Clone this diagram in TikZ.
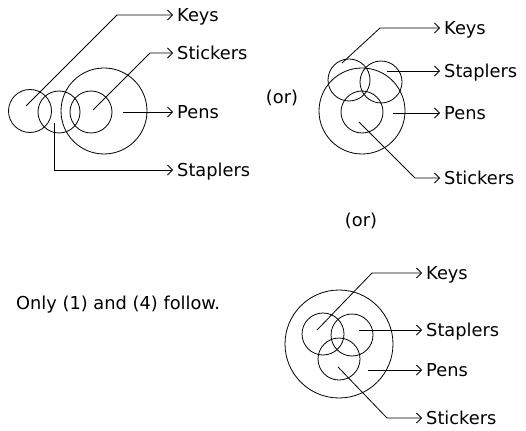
\documentclass[tikz,border=0pt]{standalone}
\usepackage{fontspec}
\setmainfont{DejaVu Sans}
\usetikzlibrary{arrows.meta}
\begin{document}
\begin{tikzpicture}[x=1pt,y=-1pt,
  every node/.style={font=\fontsize{17.8}{21}\selectfont},
  circ/.style={draw, circle, inner sep=0pt, line width=0.8pt},
  conn/.style={line width=0.8pt, -{Straight Barb[length=5pt,width=10pt,line width=0.8pt]}},
  lab/.style={anchor=west, inner xsep=4pt, inner ysep=0pt, text height=12.8pt, text depth=0pt},
  plain/.style={inner sep=0pt}]
\useasboundingbox (0,0) rectangle (526,430);
% ---------- diagram 1 ----------
\node[circ, minimum size=43pt] (k1) at (30,111) {};
\node[circ, minimum size=42pt] (s1) at (59,112) {};
\node[circ, minimum size=86pt] (p1) at (104,111) {};
\node[circ, minimum size=42pt] (t1) at (91,112) {};
\coordinate (k1a) at (26,106); \coordinate (k1b) at (117,15);
\coordinate (t1a) at (93,110); \coordinate (t1b) at (150,53);
\coordinate (p1a) at (123,112);
\coordinate (s1a) at (54,123); \coordinate (s1b) at (54,170);
\node[lab] (K1) at (173,15) {Keys};
\node[lab] (T1) at (173,53) {Stickers};
\node[lab] (P1) at (173,112) {Pens};
\node[lab] (S1) at (173,170) {Staplers};
\draw[conn] (k1a) -- (k1b) -- (K1.west);
\draw[conn] (t1a) -- (t1b) -- (T1.west);
\draw[conn] (p1a) -- (P1.west);
\draw[conn] (s1a) -- (s1b) -- (S1.west);
% ---------- (or) ----------
\node[plain] (or1) at (282,98) {(or)};
\node[plain] (or2) at (361,221) {(or)};
% ---------- diagram 2 ----------
\node[circ, minimum size=42pt] (k2) at (349,80) {};
\node[circ, minimum size=42pt] (s2) at (381,82) {};
\node[circ, minimum size=86pt] (p2) at (362,111) {};
\node[circ, minimum size=42pt] (t2) at (362,112) {};
\coordinate (k2a) at (342,63); \coordinate (k2b) at (380,28);
\coordinate (s2a) at (387,71);
\coordinate (p2a) at (393,113);
\coordinate (t2a) at (359,122); \coordinate (t2b) at (415,178);
\node[lab] (K2) at (440,28) {Keys};
\node[lab] (S2) at (440,71) {Staplers};
\node[lab] (P2) at (440,113) {Pens};
\node[lab] (T2) at (440,178) {Stickers};
\draw[conn] (k2a) -- (k2b) -- (K2.west);
\draw[conn] (s2a) -- (S2.west);
\draw[conn] (p2a) -- (P2.west);
\draw[conn] (t2a) -- (t2b) -- (T2.west);
% ---------- conclusion ----------
\node[plain, anchor=west] (concl) at (16,305) {Only (1) and (4) follow.};
% ---------- diagram 3 ----------
\node[circ, minimum size=108pt] (p3) at (339,344) {};
\node[circ, minimum size=42pt] (k3) at (323,334) {};
\node[circ, minimum size=42pt] (s3) at (352,335) {};
\node[circ, minimum size=42pt] (t3) at (339,359) {};
\coordinate (k3a) at (317,330); \coordinate (k3b) at (372,273);
\coordinate (s3a) at (359,330);
\coordinate (p3a) at (368,370);
\coordinate (t3a) at (338,367); \coordinate (t3b) at (387,418);
\node[lab] (K3) at (422,273) {Keys};
\node[lab] (S3) at (422,330) {Staplers};
\node[lab] (P3) at (422,370) {Pens};
\node[lab] (T3) at (422,418) {Stickers};
\draw[conn] (k3a) -- (k3b) -- (K3.west);
\draw[conn] (s3a) -- (S3.west);
\draw[conn] (p3a) -- (P3.west);
\draw[conn] (t3a) -- (t3b) -- (T3.west);
\end{tikzpicture}
\end{document}
